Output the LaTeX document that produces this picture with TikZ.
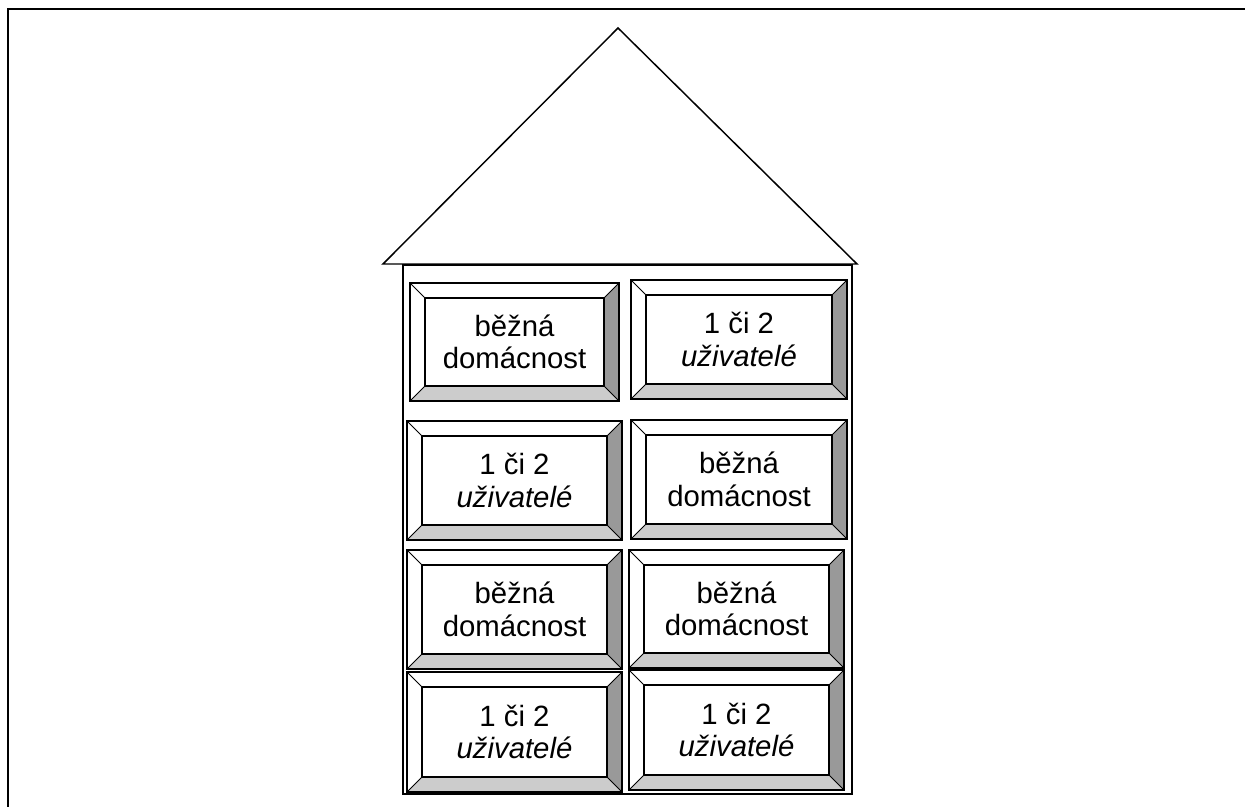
\documentclass[tikz,border=0pt]{standalone}
\usepackage{fontspec}
\setmainfont{Liberation Sans}
\usetikzlibrary{calc}
\definecolor{bevdark}{HTML}{999999}
\definecolor{bevlight}{HTML}{CCCCCC}
\tikzset{
  frameline/.style={line width=2.2pt},
  houseline/.style={line width=1.1pt},
  outerline/.style={line width=1.3pt},
  innerline/.style={line width=1.2pt},
  diagline/.style={line width=0.7pt},
  boxtext/.style={align=center, font=\fontsize{22}{24.5}\selectfont, inner sep=0pt}
}
\newcommand\bevbox[6]{%
  \coordinate (#1-a) at (#2,#3);
  \coordinate (#1-b) at (#4,#3);
  \coordinate (#1-c) at (#4,#5);
  \coordinate (#1-d) at (#2,#5);
  \coordinate (#1-A) at ($(#1-a)+(15,15)$);
  \coordinate (#1-B) at ($(#1-b)+(-15,15)$);
  \coordinate (#1-C) at ($(#1-c)+(-15,-15)$);
  \coordinate (#1-D) at ($(#1-d)+(15,-15)$);
  \fill[white] (#1-a) rectangle (#1-c);
  \fill[bevdark] (#1-b)--(#1-c)--(#1-C)--(#1-B)--cycle;
  \fill[bevlight] (#1-d)--(#1-c)--(#1-C)--(#1-D)--cycle;
  \draw[diagline] (#1-a)--(#1-A) (#1-b)--(#1-B) (#1-c)--(#1-C) (#1-d)--(#1-D);
  \draw[innerline] (#1-A) rectangle (#1-C);
  \draw[outerline] (#1-a) rectangle (#1-c);
  \node[boxtext] (#1) at ($(#1-A)!0.5!(#1-C)$) {#6};
}
\begin{document}
\begin{tikzpicture}[x=0.75pt,y=-0.75pt]
\useasboundingbox (0,0) rectangle (1245,807);
\draw[frameline] (1245,9) -- (8,9) -- (8,807);
% roof
\coordinate (roofL) at (383,264);
\coordinate (roofT) at (618,28);
\coordinate (roofR) at (857,264);
\draw[houseline] (roofL) -- (roofT) -- (roofR) -- cycle;
% house body
\draw[houseline] (403,265) rectangle (852,794);
\def\bd{b\v{e}\v{z}n\'a\\dom\'acnost}
\def\uz{1 \v{c}i 2\\\textit{u\v{z}ivatel\'e}}
\bevbox{b11}{410}{283}{619}{401}{\bd}
\bevbox{b12}{631}{280}{847}{399}{\uz}
\bevbox{b21}{407}{421}{622}{540}{\uz}
\bevbox{b22}{631}{420}{847}{539}{\bd}
\bevbox{b31}{407}{550}{622}{669}{\bd}
\bevbox{b32}{629}{550}{844}{668}{\bd}
\bevbox{b41}{407}{672}{622}{792}{\uz}
\bevbox{b42}{629}{670}{844}{790}{\uz}
\end{tikzpicture}
\end{document}
